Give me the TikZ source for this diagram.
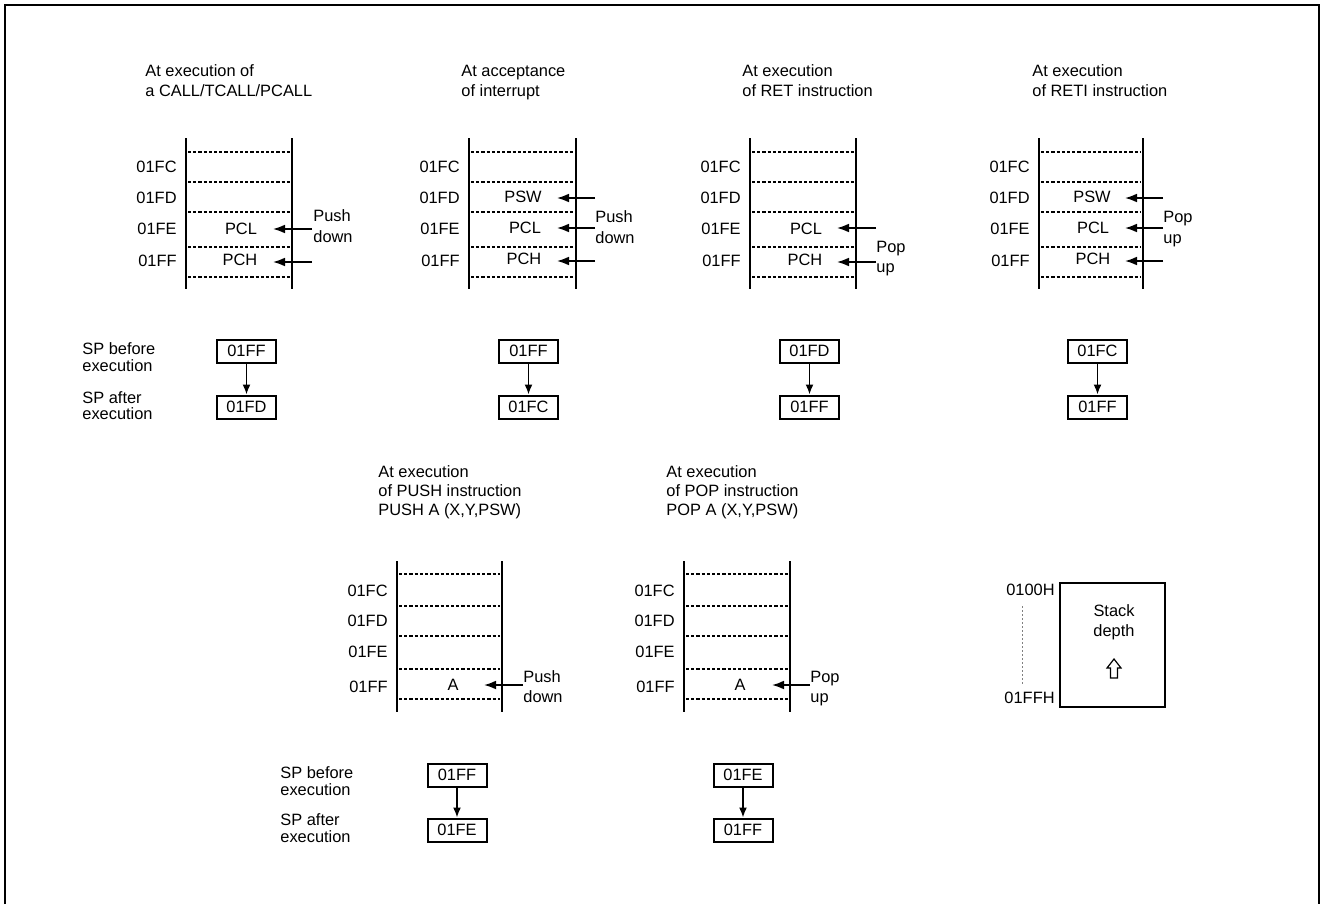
\documentclass[tikz,border=0pt]{standalone}
\usepackage{fontspec}
\setmainfont{Liberation Sans}
\usetikzlibrary{arrows.meta}
\begin{document}
\begin{tikzpicture}[x=0.5pt,y=-0.5pt,
  txt/.style={inner sep=0pt, font=\fontsize{8.2}{10}\selectfont, text height=5.9pt, text depth=0pt},
  lt/.style={txt, anchor=west},
  rt/.style={txt, anchor=east},
  ct/.style={txt},
  wall/.style={line width=1pt},
  sep/.style={line width=0.75pt, dash pattern=on 1.6pt off 1pt},
  arr/.style={line width=0.8pt, -{Latex[length=6pt,width=4.4pt]}},
  darr/.style={line width=0.8pt, -{Latex[length=5pt,width=4pt]}},
  spbox/.style={txt, draw, line width=1pt, minimum width=29.5pt, minimum height=11.5pt},
  frame/.style={line width=1pt}
]
\useasboundingbox (0,0) rectangle (1321,904);
% frame (open at the bottom)
\coordinate (fbl) at (5,904);
\coordinate (ftl) at (5,5);
\coordinate (ftr) at (1319,5);
\coordinate (fbr) at (1319,904);
\draw[frame] (fbl) -- (ftl) -- (ftr) -- (fbr);

% ---------- top row stacks ----------
\foreach \xl/\xr/\n in {186/292/1, 469/576/2, 750/856/3, 1039/1143/4} {
  \draw[wall] (\xl,138) -- (\xl,289);
  \draw[wall] (\xr,138) -- (\xr,289);
  \foreach \y in {152,182,212,247,277} \draw[sep] (\xl+2,\y) -- (\xr-2,\y);
  \node[rt] (fc\n) at (\xl-9,167) {01FC};
  \node[rt] (fd\n) at (\xl-9,198) {01FD};
  \node[rt] (fe\n) at (\xl-9,229) {01FE};
  \node[rt] (ff\n) at (\xl-9,261) {01FF};
}

% titles
\node[lt] (t1a) at (145,71) {At execution of};
\node[lt] (t1b) at (145,91) {a CALL/TCALL/PCALL};
\node[lt] (t2a) at (461,71) {At acceptance};
\node[lt] (t2b) at (461,91) {of interrupt};
\node[lt] (t3a) at (742,71) {At execution};
\node[lt] (t3b) at (742,91) {of RET instruction};
\node[lt] (t4a) at (1032,71) {At execution};
\node[lt] (t4b) at (1032,91) {of RETI instruction};

% D1 cells
\node[ct] (d1pcl) at (241,229) {PCL};
\node[ct] (d1pch) at (240,260) {PCH};
\coordinate (d1s1) at (312,229); \coordinate (d1e1) at (273,229);
\coordinate (d1s2) at (312,262); \coordinate (d1e2) at (273,262);
\draw[arr] (d1s1) -- (d1e1);
\draw[arr] (d1s2) -- (d1e2);
\node[lt] (d1p) at (313,216) {Push};
\node[lt] (d1d) at (313,237) {down};

% D2 cells
\node[ct] (d2psw) at (523,197) {PSW};
\node[ct] (d2pcl) at (525,228) {PCL};
\node[ct] (d2pch) at (524,259) {PCH};
\coordinate (d2s1) at (595,198); \coordinate (d2e1) at (557,198);
\coordinate (d2s2) at (595,228); \coordinate (d2e2) at (557,228);
\coordinate (d2s3) at (595,261); \coordinate (d2e3) at (557,261);
\draw[arr] (d2s1) -- (d2e1);
\draw[arr] (d2s2) -- (d2e2);
\draw[arr] (d2s3) -- (d2e3);
\node[lt] (d2p) at (595,217) {Push};
\node[lt] (d2d) at (595,238) {down};

% D3 cells
\node[ct] (d3pcl) at (806,229) {PCL};
\node[ct] (d3pch) at (805,260) {PCH};
\coordinate (d3s1) at (876,228); \coordinate (d3e1) at (837,228);
\coordinate (d3s2) at (876,262); \coordinate (d3e2) at (837,262);
\draw[arr] (d3s1) -- (d3e1);
\draw[arr] (d3s2) -- (d3e2);
\node[lt] (d3p) at (876,247) {Pop};
\node[lt] (d3u) at (876,267) {up};

% D4 cells
\node[ct] (d4psw) at (1092,197) {PSW};
\node[ct] (d4pcl) at (1093,228) {PCL};
\node[ct] (d4pch) at (1093,259) {PCH};
\coordinate (d4s1) at (1163,198); \coordinate (d4e1) at (1125,198);
\coordinate (d4s2) at (1163,228); \coordinate (d4e2) at (1125,228);
\coordinate (d4s3) at (1163,261); \coordinate (d4e3) at (1125,261);
\draw[arr] (d4s1) -- (d4e1);
\draw[arr] (d4s2) -- (d4e2);
\draw[arr] (d4s3) -- (d4e3);
\node[lt] (d4p) at (1163,217) {Pop};
\node[lt] (d4u) at (1163,238) {up};

% SP rows top
\node[lt] (sb1) at (82,349) {SP before};
\node[lt] (se1) at (82,366) {execution};
\node[lt] (sa1) at (82,398) {SP after};
\node[lt] (sf1) at (82,414) {execution};
\node[spbox] (b1a) at (246.5,351) {01FF};
\node[spbox] (b1b) at (246.5,407) {01FD};
\node[spbox] (b2a) at (528.5,351) {01FF};
\node[spbox] (b2b) at (528.5,407) {01FC};
\node[spbox] (b3a) at (809.5,351) {01FD};
\node[spbox] (b3b) at (809.5,407) {01FF};
\node[spbox] (b4a) at (1097.5,351) {01FC};
\node[spbox] (b4b) at (1097.5,407) {01FF};
\draw[darr] (b1a) -- (b1b);
\draw[darr] (b2a) -- (b2b);
\draw[darr] (b3a) -- (b3b);
\draw[darr] (b4a) -- (b4b);

% ---------- bottom row ----------
\node[lt] (t5a) at (378,472) {At execution};
\node[lt] (t5b) at (378,491) {of PUSH instruction};
\node[lt] (t5c) at (378,510) {PUSH A (X,Y,PSW)};
\node[lt] (t6a) at (666,472) {At execution};
\node[lt] (t6b) at (666,491) {of POP instruction};
\node[lt] (t6c) at (666,510) {POP A (X,Y,PSW)};

\foreach \xl/\xr/\n in {397/502/5, 684/790/6} {
  \draw[wall] (\xl,561) -- (\xl,712);
  \draw[wall] (\xr,561) -- (\xr,712);
  \foreach \y in {574,606,636,669,699} \draw[sep] (\xl+2,\y) -- (\xr-2,\y);
  \node[rt] (fc\n) at (\xl-9,591) {01FC};
  \node[rt] (fd\n) at (\xl-9,621) {01FD};
  \node[rt] (fe\n) at (\xl-9,652) {01FE};
  \node[rt] (ff\n) at (\xl-9,687) {01FF};
}
\node[ct] (d5a) at (453,685) {A};
\coordinate (d5s) at (523,685); \coordinate (d5e) at (484,685);
\draw[arr] (d5s) -- (d5e);
\node[lt] (d5p) at (523,677) {Push};
\node[lt] (d5d) at (523,697) {down};

\node[ct] (d6a) at (740,685) {A};
\coordinate (d6s) at (810,685); \coordinate (d6e) at (772,685);
\draw[arr] (d6s) -- (d6e);
\node[lt] (d6p) at (810,677) {Pop};
\node[lt] (d6u) at (810,697) {up};

\node[lt] (sb2) at (280,773) {SP before};
\node[lt] (se2) at (280,790) {execution};
\node[lt] (sa2) at (280,820) {SP after};
\node[lt] (sf2) at (280,837) {execution};
\node[spbox] (b5a) at (457,775) {01FF};
\node[spbox] (b5b) at (457,830) {01FE};
\node[spbox] (b6a) at (743,775) {01FE};
\node[spbox] (b6b) at (743,830) {01FF};
\draw[darr] (b5a) -- (b5b);
\draw[darr] (b6a) -- (b6b);

% stack depth
\node[draw, line width=1pt, minimum width=52.5pt, minimum height=62pt, inner sep=0pt] (sd) at (1112.5,645) {};
\node[rt] (h100) at (1055,590) {0100H};
\node[rt] (h1ff) at (1055,698) {01FFH};
\coordinate (dl1) at (1022,606);
\coordinate (dl2) at (1022,686);
\draw[line width=0.5pt, gray, dash pattern=on 1pt off 1pt] (dl1) -- (dl2);
\node[ct] (stk) at (1114,611) {Stack};
\node[ct] (dep) at (1114,631) {depth};
\draw[line width=0.6pt, line join=miter] (1114,659) -- (1121,668) -- (1117.5,668) -- (1117.5,678) -- (1110.5,678) -- (1110.5,668) -- (1107,668) -- cycle;
\end{tikzpicture}
\end{document}
